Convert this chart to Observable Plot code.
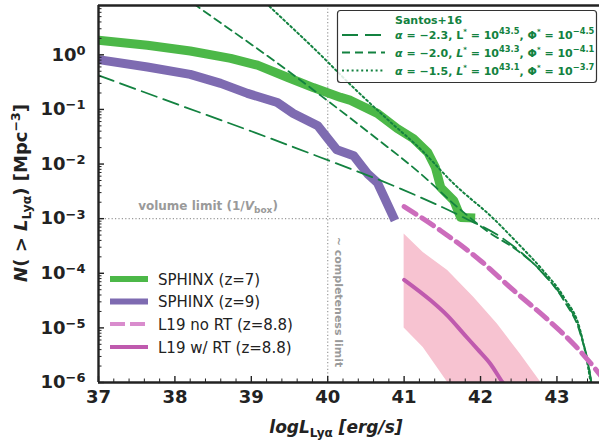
<!DOCTYPE html>
<html>
<head>
<meta charset="utf-8">
<script src="https://cdn.jsdelivr.net/npm/d3@7"></script>
<script src="https://cdn.jsdelivr.net/npm/@observablehq/plot@0.6"></script>
<style>
  html, body { margin: 0; padding: 0; background: #fff; }
  svg { display: block; font-family: "DejaVu Sans", sans-serif; }
</style>
</head>
<body>
<div id="chart"></div>
<script>
// Cumulative Lyα luminosity functions, stored as log10 L [erg/s] and log10 N(>L) [Mpc^-3]

// SPHINX, z = 7
const sphinxZ7LogL = [37.0, 37.64, 38.2, 38.73, 39.08, 39.47, 39.81, 40.17, 40.30, 40.65, 40.91, 41.12, 41.31, 41.41, 41.48, 41.65, 41.74, 41.93];
const sphinxZ7LogN = [0.266, 0.174, 0.07, -0.064, -0.19, -0.41, -0.60, -0.78, -0.835, -1.073, -1.349, -1.532, -1.789, -2.064, -2.431, -2.67, -2.98, -2.99];

// SPHINX, z = 9
const sphinxZ9LogL = [37.0, 37.64, 38.2, 38.6, 38.95, 39.34, 39.55, 39.87, 40.0, 40.12, 40.34, 40.52, 40.65, 40.76, 40.88];
const sphinxZ9LogN = [-0.088, -0.224, -0.358, -0.523, -0.706, -0.872, -1.075, -1.30, -1.53, -1.74, -1.85, -2.174, -2.339, -2.67, -3.03];

// L19 without radiative transfer, z = 8.8
const l19NoRtLogL = [41.0, 41.48, 42.0, 42.43, 42.88, 43.22, 43.56, 43.7];
const l19NoRtLogN = [-2.78, -3.22, -3.77, -4.31, -4.85, -5.3, -5.85, -6.1];

// L19 with radiative transfer, z = 8.8, and its spread
const l19RtLogL = [41.0, 41.35, 41.57, 41.78, 41.96, 42.13, 42.29, 42.4];
const l19RtLogN = [-4.12, -4.5, -4.78, -5.11, -5.39, -5.66, -6.0, -6.2];
const l19BandLogL = [41.0, 41.25, 41.57, 41.91, 42.22, 42.52, 42.79, 42.9];
const l19BandHighLogN = [-3.28, -3.62, -3.95, -4.44, -4.93, -5.48, -6.0, -6.2];
const l19BandLowLogN = [-5.0, -5.36, -6.0, -6.6, -7.0, -7.5, -8.0, -8.2];

// Santos+16 Schechter fits
const santosA23LogL = [37.0, 38.0, 39.0, 39.9, 40.95, 41.78, 42.3, 42.8, 43.1, 43.3, 43.45, 43.52];
const santosA23LogN = [-0.376, -0.89, -1.40, -1.875, -2.45, -2.98, -3.37, -3.98, -4.5, -5.05, -6.0, -6.8];
const santosA20LogL = [38.1, 38.27, 39.47, 39.906, 40.56, 41.21, 41.74, 42.09, 42.5, 42.8, 43.1, 43.3, 43.45, 43.52];
const santosA20LogN = [1.08, 0.91, -0.284, -0.743, -1.446, -2.17, -2.84, -3.23, -3.6, -3.97, -4.52, -5.08, -6.0, -6.8];
const santosA15LogL = [39.1, 39.22, 39.906, 40.3, 40.78, 41.21, 41.65, 42.17, 42.5, 42.8, 43.1, 43.3, 43.44, 43.5];
const santosA15LogN = [1.07, 0.91, 0.0, -0.55, -1.18, -1.72, -2.36, -3.0, -3.47, -3.92, -4.46, -5.02, -6.0, -6.6];

// Reference levels
const volumeLimit = 1e-3;
const completenessLimit = 40;

// Axis ticks
const xTicks = [37, 38, 39, 40, 41, 42, 43];
const yTicks = [1e-6, 1e-5, 1e-4, 1e-3, 1e-2, 1e-1, 1];
const yTickLabels = ["10^−6", "10^−5", "10^−4", "10^−3", "10^−2", "10^−1", "10^0"];

// Legend entries
const simLegendLabels = ["SPHINX (z=7)", "SPHINX (z=9)", "L19 no RT (z=8.8)", "L19 w/ RT (z=8.8)"];
const santosTitle = "Santos+16";
const santosAlpha = ["−2.3", "−2.0", "−1.5"];
const santosLstar = ["43.5", "43.3", "43.1"];
const santosPhistar = ["−4.5", "−4.1", "−3.7"];

// ---- styles ----
const GREEN = "#4cb848", PURPLE = "#7e6bb1", PINK = "#cc6cbc", MAGENTA = "#bf5aae", BAND = "#f7c3d1";
const DKGREEN = "#138240", GREY = "#9a9a9a", INK = "#222";

const toRows = (logL, logN) => logL.map((x, i) => ({x, y: 10 ** logN[i]}));
const sphinxZ7 = toRows(sphinxZ7LogL, sphinxZ7LogN);
const sphinxZ9 = toRows(sphinxZ9LogL, sphinxZ9LogN);
const l19NoRt = toRows(l19NoRtLogL, l19NoRtLogN);
const l19Rt = toRows(l19RtLogL, l19RtLogN);
const l19Band = l19BandLogL.map((x, i) => ({x, hi: 10 ** l19BandHighLogN[i], lo: 10 ** l19BandLowLogN[i]}));
const santosA23 = toRows(santosA23LogL, santosA23LogN);
const santosA20 = toRows(santosA20LogL, santosA20LogN);
const santosA15 = toRows(santosA15LogL, santosA15LogN);

const xMinor = d3.range(37, 43.6, 0.2).filter(v => Math.abs(v - Math.round(v)) > 1e-6);
const yMinor = [];
for (let k = -6; k <= 0; k++) for (let m = 2; m <= 9; m++) if (m * 10 ** k <= 8) yMinor.push(m * 10 ** k);

const plot = Plot.plot({
  width: 599,
  height: 441,
  marginLeft: 98,
  marginRight: 0,
  marginTop: 5,
  marginBottom: 59,
  style: {background: "#fff", fontFamily: "DejaVu Sans, sans-serif", color: INK},
  x: {domain: [37, 43.557]},
  y: {type: "log", domain: [1e-6, 8]},
  marks: [
    Plot.areaY(l19Band, {x: "x", y1: "lo", y2: "hi", fill: BAND, clip: true}),
    Plot.ruleY([volumeLimit], {stroke: GREY, strokeWidth: 1.2, strokeDasharray: "1.2,2.2"}),
    Plot.ruleX([completenessLimit], {stroke: GREY, strokeWidth: 1.2, strokeDasharray: "1.2,2.2"}),
    Plot.line(sphinxZ7, {x: "x", y: "y", stroke: GREEN, strokeWidth: 9, strokeLinecap: "butt", strokeLinejoin: "round", clip: true}),
    Plot.line(sphinxZ9, {x: "x", y: "y", stroke: PURPLE, strokeWidth: 9, strokeLinecap: "butt", strokeLinejoin: "round", clip: true}),
    Plot.line(santosA23, {x: "x", y: "y", stroke: DKGREEN, strokeWidth: 1.8, strokeDasharray: "16,7", curve: "monotone-x", clip: true}),
    Plot.line(santosA20, {x: "x", y: "y", stroke: DKGREEN, strokeWidth: 1.8, strokeDasharray: "8,5", curve: "monotone-x", clip: true}),
    Plot.line(santosA15, {x: "x", y: "y", stroke: DKGREEN, strokeWidth: 2, strokeDasharray: "2,2.8", curve: "monotone-x", clip: true}),
    Plot.line(l19NoRt, {x: "x", y: "y", stroke: PINK, strokeWidth: 5, strokeDasharray: "14,7", curve: "monotone-x", clip: true}),
    Plot.line(l19Rt, {x: "x", y: "y", stroke: MAGENTA, strokeWidth: 4, curve: "monotone-x", clip: true}),
    // inward ticks
    Plot.axisX(xTicks, {anchor: "bottom", tickSize: -6, strokeWidth: 1.4, stroke: INK, fill: "none", label: null}),
    Plot.axisX(xMinor, {anchor: "bottom", tickSize: -3.5, strokeWidth: 1, stroke: INK, fill: "none", label: null}),
    Plot.axisY(yTicks, {anchor: "left", tickSize: -6, strokeWidth: 1.4, stroke: INK, fill: "none", label: null}),
    Plot.axisY(yMinor, {anchor: "left", tickSize: -3.5, strokeWidth: 1, stroke: INK, fill: "none", label: null}),
    // tick labels
    Plot.axisX(xTicks, {anchor: "bottom", tickSize: 0, tickPadding: 8, fontSize: 18, fontWeight: "bold", fill: INK, label: null, tickFormat: d => String(d)}),
    Plot.axisY(yTicks, {anchor: "left", tickSize: 0, tickPadding: 13, fontSize: 18, fontWeight: "bold", fill: INK, label: null,
      tickFormat: d => yTickLabels[yTicks.indexOf(d)]}),
    // spines
    Plot.ruleY([8], {stroke: INK, strokeWidth: 2.4}),
    Plot.ruleY([1e-6], {stroke: INK, strokeWidth: 2.4}),
    Plot.ruleX([37], {stroke: INK, strokeWidth: 2.4})
  ]
});

document.getElementById("chart").appendChild(plot);
const svg = d3.select(plot);
const sx = plot.scale("x"), sy = plot.scale("y");

// y tick labels as 10 with a raised exponent
svg.selectAll('g[aria-label="y-axis tick label"] text').each(function () {
  const [base, exp] = this.textContent.split("^");
  const t = d3.select(this);
  t.text(null);
  t.append("tspan").text(base);
  t.append("tspan").attr("dy", "-0.45em").attr("font-size", 13).text(exp);
});

// axis titles
const ylab = svg.append("text")
  .attr("transform", "translate(27,193) rotate(-90)")
  .attr("text-anchor", "middle").attr("font-size", 18).attr("font-weight", "bold").attr("fill", INK);
ylab.append("tspan").attr("font-style", "italic").text("N");
ylab.append("tspan").text("( > ");
ylab.append("tspan").attr("font-style", "italic").text("L");
ylab.append("tspan").attr("dy", 4).attr("font-size", 12.5).text("Lyα");
ylab.append("tspan").attr("dy", -4).text(") [Mpc");
ylab.append("tspan").attr("dy", -7).attr("font-size", 12.5).text("−3");
ylab.append("tspan").attr("dy", 7).text("]");

const xlab = svg.append("text")
  .attr("x", 336).attr("y", 433)
  .attr("text-anchor", "middle").attr("font-size", 17).attr("font-weight", "bold").attr("fill", INK);
xlab.append("tspan").attr("font-style", "italic").text("logL");
xlab.append("tspan").attr("dy", 4).attr("font-size", 12).text("Lyα");
xlab.append("tspan").attr("dy", -4).attr("font-style", "italic").text(" [erg/s]");

// reference line annotations
const vol = svg.append("text")
  .attr("x", 208).attr("y", sy.apply(volumeLimit) - 8)
  .attr("text-anchor", "middle").attr("font-size", 12).attr("font-weight", "bold").attr("fill", GREY);
vol.append("tspan").text("volume limit (1/");
vol.append("tspan").attr("font-style", "italic").text("V");
vol.append("tspan").attr("dy", 3).attr("font-size", 9).text("box");
vol.append("tspan").attr("dy", -3).text(")");

svg.append("text")
  .attr("transform", `translate(${sx.apply(completenessLimit) + 11},302) rotate(90)`)
  .attr("text-anchor", "middle").attr("dominant-baseline", "central")
  .attr("font-size", 11).attr("font-weight", "bold").attr("fill", GREY)
  .text("~ completeness limit");

// simulation legend (lower left)
const simStyles = [
  {stroke: GREEN, width: 6, dash: null},
  {stroke: PURPLE, width: 6, dash: null},
  {stroke: "#d98ccd", width: 4, dash: "15,5"},
  {stroke: MAGENTA, width: 4, dash: null}
];
const simRowY = [279, 301.5, 324, 347];
simLegendLabels.forEach((label, i) => {
  const s = simStyles[i];
  svg.append("line").attr("x1", 110).attr("x2", 148).attr("y1", simRowY[i]).attr("y2", simRowY[i])
    .attr("stroke", s.stroke).attr("stroke-width", s.width).attr("stroke-dasharray", s.dash);
  svg.append("text").attr("x", 158).attr("y", simRowY[i] + 5.5).attr("text-anchor", "start")
    .attr("font-size", 15).attr("fill", INK).text(label);
});

// Santos+16 legend (upper right)
const lg = svg.append("g").attr("text-anchor", "start");
lg.append("rect").attr("x", 337.5).attr("y", 10.5).attr("width", 259).attr("height", 72).attr("rx", 3)
  .attr("fill", "#fff").attr("fill-opacity", 0.85).attr("stroke", "#333").attr("stroke-width", 1.2);
lg.append("text").attr("x", 395).attr("y", 23.5).attr("font-size", 11).attr("font-weight", "bold")
  .attr("fill", DKGREEN).text(santosTitle);
const santosDash = ["16,7", "8,5", "2,2.8"];
const santosRowY = [35, 52.5, 70.5];
santosAlpha.forEach((a, i) => {
  const y = santosRowY[i];
  lg.append("line").attr("x1", 342).attr("x2", 385).attr("y1", y).attr("y2", y)
    .attr("stroke", DKGREEN).attr("stroke-width", i === 2 ? 2 : 1.8).attr("stroke-dasharray", santosDash[i]);
  const t = lg.append("text").attr("x", 395).attr("y", y + 4).attr("font-size", 11)
    .attr("font-weight", "bold").attr("fill", DKGREEN);
  t.append("tspan").attr("font-style", "italic").text("α");
  t.append("tspan").text(` = ${a}, `);
  t.append("tspan").attr("font-style", i === 0 ? "normal" : "italic").text("L");
  t.append("tspan").attr("dy", -5).attr("font-size", 7).text("*");
  t.append("tspan").attr("dy", 5).text(" = 10");
  t.append("tspan").attr("dy", -5).attr("font-size", 8.3).text(santosLstar[i]);
  t.append("tspan").attr("dy", 5).text(", Φ");
  t.append("tspan").attr("dy", -5).attr("font-size", 7).text("*");
  t.append("tspan").attr("dy", 5).text(" = 10");
  t.append("tspan").attr("dy", -5).attr("font-size", 8.3).text(santosPhistar[i]);
});
</script>
</body>
</html>
